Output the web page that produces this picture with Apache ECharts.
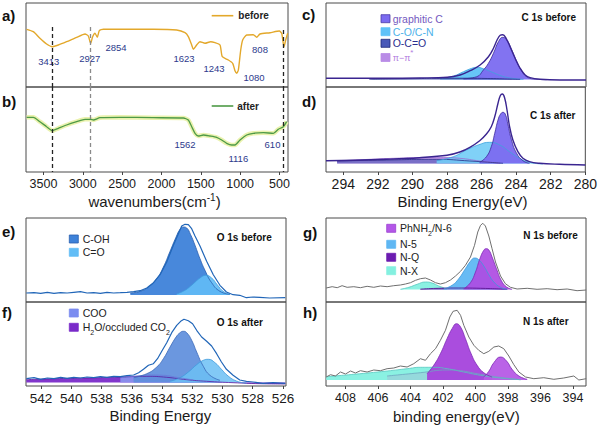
<!DOCTYPE html>
<html><head><meta charset="utf-8">
<script src="https://cdn.jsdelivr.net/npm/echarts@6/dist/echarts.min.js"></script>
<style>html,body{margin:0;padding:0;background:#fff}#c{width:600px;height:426px}</style>
</head><body><div id="c"></div>
<script>
// ---------------- DATA ----------------
const ftirTicks = [3500, 3000, 2500, 2000, 1500, 1000, 500];
const c1sTicks = [294, 292, 290, 288, 286, 284, 282, 280];
const o1sTicks = [542, 540, 538, 536, 534, 532, 530, 528, 526];
const n1sTicks = [408, 406, 404, 402, 400, 398, 396, 394];

const ftirGuideLines = [3388, 2900, 447];
const ftirLabelsBefore = ['3413', '2927', '2854', '1623', '1243', '1080', '808'];
const ftirLabelsAfter = ['1562', '1116', '610'];

const ftirBefore = [[3714,57.7],[3629,55.3],[3545,48.7],[3460,43],[3388,40.3],[3311,42],[3206,45.3],[3078,49.7],[2972,53],[2930,51],[2900,43.7],[2875,50.3],[2845,53.7],[2816,49.7],[2790,56.3],[2739,57.7],[2527,57.7],[2104,57.7],[1807,57],[1701,54.3],[1659,50.3],[1616,42],[1595,37.7],[1553,42],[1511,45.3],[1447,43.7],[1375,45.3],[1320,44.3],[1256,42],[1227,30.3],[1150,27],[1095,23.7],[1066,16.3],[1044,13.7],[1023,17],[993,37],[968,47],[917,52],[833,52.3],[790,49.7],[748,53],[621,54.3],[502,56],[472,53.7],[443,40.3],[421,47],[396,53.7]];
const ftirAfter = [[3714,54.7],[3629,54.7],[3545,50.3],[3460,45.3],[3388,41.3],[3311,43.7],[3206,47],[3078,50.3],[2972,52.7],[2900,52.7],[2866,52],[2782,54.3],[2527,54.7],[2104,54.3],[1722,54],[1659,52],[1616,45.3],[1574,38.7],[1532,36],[1468,37],[1384,36],[1299,34.7],[1235,32],[1172,28.7],[1108,27],[1066,27],[1002,32],[917,37],[833,38.7],[705,39.3],[578,38.7],[515,42.7],[451,45.3],[409,50.3]];

const c1sBeforeEnvelope = [[295,8.7],[293.4,8.7],[291.5,8.7],[289.6,9],[288,9.7],[287.26,12],[286.68,16.3],[286.11,22],[285.63,30.3],[285.34,38.7],[285.11,47.7],[284.95,51.7],[284.8,52.3],[284.61,48.7],[284.38,40.3],[284.09,28.7],[283.8,18.7],[283.51,12],[283.23,9.3],[282.65,7.7],[281.5,7],[280,7]];
const c1sBeforeGraphitic = [[287.07,8.3],[286.3,10.3],[285.92,17],[285.63,23.7],[285.34,33.7],[285.05,45.3],[284.8,49.7],[284.57,47],[284.28,37],[283.99,25.3],[283.71,16],[283.42,10.3],[283.03,8],[282.27,7.3]];
const c1sBeforeCO = [[288.41,8.3],[287.64,11],[287.07,15.3],[286.59,18.7],[286.3,19.7],[285.92,18.3],[285.44,15],[284.86,11],[284.28,8.7],[283.61,7.7]];
const c1sBeforeOCO = [[292.5,7.8],[290.5,8.2],[287.6,8.8],[285.7,8.5],[283.8,7.6]];

const c1sAfterEnvelope = [[295,11.3],[293.4,11.7],[291.5,12.7],[289.6,14.3],[288,16.7],[287.26,20],[286.68,24.7],[286.11,31.3],[285.72,38],[285.44,45.3],[285.24,55.3],[285.05,68.7],[284.92,76.3],[284.8,78],[284.67,74.3],[284.53,62],[284.38,45.3],[284.19,32],[283.9,20.3],[283.61,13.7],[283.23,10.3],[282.65,8.7],[281.5,7.7],[280,7]];
const c1sAfterGraphitic = [[286.11,9.7],[285.72,15.3],[285.44,25.3],[285.24,38.7],[285.05,52],[284.9,58],[284.76,59.7],[284.61,57],[284.48,48],[284.28,32.7],[283.99,19.3],[283.61,11.3],[283.23,8.7]];
const c1sAfterCO = [[288.6,11.3],[287.64,15.3],[286.87,22],[286.2,27],[285.53,29.7],[284.95,27],[284.38,20.3],[283.8,13.7],[283.23,9.7],[282.46,8]];
const c1sAfterPi = [[294.36,11],[292.44,12.7],[290.52,14],[288.6,14.7],[287.26,13.7],[286.11,11],[284.95,8.7]];
const c1sAfterOCO = [[294.36,11],[291.5,12],[288.6,12.7],[286.68,11],[284.76,8.7]];

const o1sBeforeEnvelope = [[542.98,9],[542.47,9.3],[542.03,8.7],[541.59,9.7],[541.15,8.7],[540.71,9.3],[540.28,9],[539.84,9.7],[539.4,10.3],[538.96,9],[538.52,9.3],[538.08,8.7],[537.64,9.7],[537.2,9],[536.76,9.3],[536.32,9.7],[535.88,10.3],[535.45,11.3],[535.01,14],[534.57,19.3],[534.13,27.3],[533.69,40],[533.25,56.7],[532.92,68.3],[532.7,76],[532.48,77.7],[532.26,77.3],[532.04,73.3],[531.82,66],[531.49,56],[531.05,40.7],[530.61,27.3],[530.17,16.7],[529.74,10],[529.3,7.3],[528.86,6.7],[528.42,4.3],[527.98,5],[527.54,4.7],[526.88,4],[525.85,4.3]];
const o1sBeforeCOH = [[536.1,9],[535.45,10.7],[534.9,15],[534.35,23.3],[533.91,35],[533.47,50.7],[533.07,65],[532.81,72.7],[532.59,75],[532.37,74],[532.11,67.3],[531.82,56.7],[531.49,43.3],[531.16,31.7],[530.72,19.3],[530.17,10.7],[529.52,7.7]];
const o1sBeforeCdO = [[533.03,8],[532.48,11.7],[531.93,18.3],[531.49,24],[531.1,26.7],[530.72,24],[530.35,17.3],[529.96,10.7],[529.52,7.7]];

const o1sAfterEnvelope = [[542.98,7.3],[542.47,8.3],[542.03,6.7],[541.59,8],[541.15,7.3],[540.71,8.7],[540.28,7.7],[539.84,8.7],[539.4,8],[538.96,9],[538.52,8.3],[538.08,9.3],[537.64,8.7],[537.2,9.7],[536.76,9.3],[536.32,10.3],[535.88,11],[535.55,13.3],[535.23,16.7],[534.9,20.7],[534.57,22.3],[534.3,27.3],[534.02,34.7],[533.69,43.3],[533.36,53.3],[533.03,60.7],[532.77,64.7],[532.55,66.7],[532.26,65.3],[531.98,62.3],[531.71,55.7],[531.38,49],[531.05,44.7],[530.72,40],[530.39,32.3],[530.07,24],[529.74,16.7],[529.3,10.7],[528.86,6],[528.42,4.7],[527.98,4],[527.32,2.7],[526.66,3.3],[525.85,2.7]];
const o1sAfterCOH = [[535.88,8.3],[535.01,12.3],[534.35,19],[533.91,27.3],[533.47,39],[533.07,49],[532.81,53.3],[532.59,54.7],[532.37,53.3],[532.04,45.7],[531.71,34],[531.27,19.7],[530.83,10.7],[530.17,5.7]];
const o1sAfterCdO = [[533.47,4.7],[532.81,8.3],[532.26,14],[531.71,21.3],[531.27,25.7],[530.94,26.7],[530.5,23.3],[530.07,16.7],[529.63,10],[529.08,5],[528.42,2.7]];
const o1sAfterCOO = [[536.76,8.3],[535.66,10],[534.79,11],[533.91,10.7],[533.03,8.7],[531.93,6]];
const o1sAfterH2O = [[542.98,6.3],[541.15,7.3],[538.96,8],[536.76,9],[535.01,9.7],[533.69,8.7],[532.37,6.3],[531.05,4.7],[529.3,3.3],[527.54,2.3],[525.85,2]];

const n1sBeforeEnvelope = [[409.19,14],[408.82,15.3],[408.51,14.3],[408.21,16.3],[407.9,14.7],[407.49,15.3],[407.08,14.3],[406.67,15.7],[406.26,14.7],[405.85,16],[405.44,15.3],[405.03,16.3],[404.62,17],[404.31,18],[404,19.3],[403.69,21.7],[403.39,23.3],[403.08,24],[402.77,22],[402.46,19.3],[402.16,18],[401.85,19.3],[401.54,22],[401.23,26],[400.92,30.7],[400.62,36.7],[400.31,45],[400.06,56.7],[399.86,70],[399.69,76.7],[399.55,78.7],[399.39,76],[399.18,66],[398.98,53.3],[398.77,40],[398.46,26],[398.16,18.3],[397.85,14.7],[397.44,13],[396.82,13.7],[396.21,12.7],[395.59,13.3],[394.98,12.3],[394.36,13],[393.75,11.3],[393.19,12]];
const n1sBeforeN5 = [[401.95,13.3],[401.44,16.7],[401.03,23.3],[400.62,33.3],[400.31,40.7],[400.06,44],[399.8,42.3],[399.49,36],[399.18,27.3],[398.87,20],[398.46,14.7],[398.05,12.7]];
const n1sBeforeN6 = [[400.72,13.3],[400.31,19.3],[400,30],[399.73,43.3],[399.49,51.7],[399.34,53.3],[399.18,52],[398.98,45],[398.71,33.3],[398.42,21.7],[398.09,15],[397.75,12.7]];
const n1sBeforeNX = [[404.62,12.7],[404.1,14.7],[403.59,17.7],[403.08,20],[402.67,19],[402.26,16],[401.75,13.3]];
const n1sBeforeNQ = [[403.39,12.9],[401.33,14],[399.69,13.7],[398.05,12.7]];

const n1sAfterEnvelope = [[409.19,9],[408.92,11.3],[408.62,10],[408.31,14],[408,12],[407.69,15],[407.39,13],[407.08,15.3],[406.67,14],[406.26,16],[405.85,15.3],[405.44,17.3],[405.03,18],[404.62,20],[404.21,19],[403.8,22.3],[403.39,27.3],[403.08,25.7],[402.77,32.3],[402.46,37.3],[402.16,45.7],[401.85,55.7],[401.58,69],[401.38,74.7],[401.13,75.7],[400.92,70.7],[400.72,60.7],[400.41,49],[400.1,40.7],[399.8,35.7],[399.49,32.3],[399.18,34.7],[398.87,39],[398.57,40],[398.26,37.3],[397.95,30],[397.64,21.3],[397.33,14],[396.92,9],[396.41,7.3],[395.8,8.3],[395.18,6.7],[394.57,8],[393.95,10],[393.64,6],[393.19,7.3]];
const n1sAfterN6 = [[402.98,12.3],[402.57,20.7],[402.16,32.3],[401.75,47.3],[401.44,57.3],[401.17,62.3],[400.92,59],[400.62,47.3],[400.27,32.3],[399.9,20.7],[399.49,13.3],[398.98,9]];
const n1sAfterN6b = [[399.49,9],[399.18,14.7],[398.87,23.3],[398.46,29],[398.09,25],[397.75,16.7],[397.33,10],[396.82,6.7]];
const n1sAfterNX = [[409.19,9.3],[407.49,11.7],[405.44,15],[404.21,17.3],[403.39,18.7],[402.57,18.7],[401.75,17.3],[400.72,14],[399.69,10.7],[398.46,8],[397.23,6.3]];
const n1sAfterN5 = [[405.44,10],[403.39,13.3],[401.75,16],[400.92,15.3],[399.9,12.3],[398.67,9],[397.23,6.3]];

// ---------------- LAYOUT / STYLE ----------------
const FONT = "'Liberation Sans', Arial, sans-serif";
const grids = [
  {left:26, top:3, width:262, height:84},
  {left:26, top:87, width:262, height:85},
  {left:326, top:3, width:260, height:84},
  {left:326, top:87, width:260, height:85},
  {left:26, top:218, width:260, height:84},
  {left:26, top:302, width:260, height:84},
  {left:326, top:218, width:260, height:84},
  {left:326, top:302, width:260, height:84}
].map(g => Object.assign({show:true, borderColor:'#4a4a4a', borderWidth:1, backgroundColor:'transparent'}, g));

const ranges = [[392,3722],[392,3722],[280,295],[280,295],[525.8,543],[525.8,543],[393.2,409.2],[393.2,409.2]];
const tickSets = [null, ftirTicks, null, c1sTicks, null, o1sTicks, null, n1sTicks];
const labelSizes = [null, 12.5, null, 14, null, 13.5, null, 12.5];

const xAxes = ranges.map((r, i) => {
  const shown = tickSets[i] !== null;
  return {
    type:'value', gridIndex:i, min:r[0], max:r[1], inverse:true,
    axisLine:{show:false}, splitLine:{show:false},
    axisTick:shown ? {show:true, length:3, inside:false, customValues:tickSets[i], lineStyle:{color:'#444', width:1}} : {show:false},
    axisLabel:shown ? {show:true, customValues:tickSets[i], color:'#1a1a1a', margin:5, fontSize:labelSizes[i], fontFamily:FONT,
      formatter:v => String(v)} : {show:false}
  };
});
const yAxes = grids.map((g, i) => ({type:'value', gridIndex:i, min:0, max:g.height, show:false, splitLine:{show:false}}));

function trace(name, gi, data, color, width, smooth) {
  return {type:'line', name, xAxisIndex:gi, yAxisIndex:gi, data, showSymbol:false, symbol:'none',
    smooth:smooth, lineStyle:{color, width}, silent:true, z:3};
}
function comp(name, gi, data, fill, stroke, origin, opacity) {
  return {type:'line', name, xAxisIndex:gi, yAxisIndex:gi, data, showSymbol:false, symbol:'none',
    smooth:0.5, lineStyle:{color:stroke, width:0.8}, areaStyle:{color:fill, opacity:opacity, origin:origin}, silent:true, z:2};
}
function guides(top, seriesGrid) {
  const cols = ['#222', '#8a8a8a', '#222'];
  const tops = seriesGrid === 0 ? [60, 60, 57] : [top, top, top];
  return {silent:true, symbol:'none', label:{show:false},
    lineStyle:{type:[4,3], width:1.3, color:'#222'},
    data: ftirGuideLines.map((v, k) => [{coord:[v, tops[k]], lineStyle:{color:cols[k], type:[4,3], width:1.3}}, {coord:[v, 0]}])};
}

const series = [];
const sa = trace('before', 0, ftirBefore, '#E3A82B', 1.4, 0.2); sa.markLine = guides(84, 0); series.push(sa);
series.push(trace('after-halo', 1, ftirAfter, '#EAF2AE', 4.5, 0.2));
const sb = trace('after', 1, ftirAfter, '#4E9A47', 1.3, 0.2); sb.markLine = guides(85, 1); series.push(sb);

series.push(comp('C-O/C-N', 2, c1sBeforeCO, '#5FC2F7', '#3FA3DD', 7.5, 0.95));
series.push(comp('graphitic C', 2, c1sBeforeGraphitic, '#7B6BF0', '#3D2A9C', 7.5, 0.95));
series.push(comp('O-C=O', 2, c1sBeforeOCO, '#3E4FA9', '#2A2F88', 7.5, 0.9));
series.push(trace('C 1s before', 2, c1sBeforeEnvelope, '#3A2590', 1.4, 0.4));

series.push(comp('π-π*', 3, c1sAfterPi, '#B98CE6', '#9A6CD0', 8.5, 0.9));
series.push(comp('O-C=O', 3, c1sAfterOCO, '#4A55B0', '#2A2F88', 8.5, 0.6));
series.push(comp('C-O/C-N', 3, c1sAfterCO, '#72CCF6', '#3FA3DD', 8.5, 0.9));
series.push(comp('graphitic C', 3, c1sAfterGraphitic, '#7B6BF0', '#3D2A9C', 8.5, 0.95));
series.push(trace('C 1s after', 3, c1sAfterEnvelope, '#3A2590', 1.4, 0.4));

series.push(comp('C-OH', 4, o1sBeforeCOH, '#3E82D9', '#2A5EAE', 7, 0.95));
series.push(comp('C=O', 4, o1sBeforeCdO, '#62BDF6', '#3D9BDC', 7, 0.9));
series.push(trace('O 1s before', 4, o1sBeforeEnvelope, '#2166B8', 1.2, false));

series.push(comp('H2O/occluded CO2', 5, o1sAfterH2O, '#7A2BC9', '#5A1AA0', 3.5, 0.95));
series.push(comp('COO', 5, o1sAfterCOO, '#8A96EE', '#6A78D8', 3.5, 0.9));
series.push(comp('C-OH', 5, o1sAfterCOH, '#5E8EDC', '#3A68B8', 3.5, 0.92));
series.push(comp('C=O', 5, o1sAfterCdO, '#6CC0F4', '#3D9BDC', 3.5, 0.85));
series.push(trace('O 1s after', 5, o1sAfterEnvelope, '#2166B8', 1.2, false));

series.push(comp('N-X', 6, n1sBeforeNX, '#84F0E0', '#55C8C0', 12.5, 0.95));
series.push(comp('N-Q', 6, n1sBeforeNQ, '#6B1CB0', '#50128A', 12.5, 0.9));
series.push(comp('N-5', 6, n1sBeforeN5, '#5FB7F3', '#3C98DA', 12.5, 0.95));
series.push(comp('PhNH2/N-6', 6, n1sBeforeN6, '#AE4BE2', '#7C28B5', 12.5, 0.92));
series.push(trace('N 1s before', 6, n1sBeforeEnvelope, '#6f6f6f', 1, false));

series.push(comp('N-X', 7, n1sAfterNX, '#84F0E0', '#55C8C0', 6, 0.95));
series.push(comp('N-5', 7, n1sAfterN5, '#9CC9D8', '#6FA6C0', 6, 0.6));
series.push(comp('PhNH2/N-6', 7, n1sAfterN6, '#A543DC', '#7C28B5', 6, 0.95));
series.push(comp('N-6b', 7, n1sAfterN6b, '#B65BE6', '#7C28B5', 6, 0.95));
series.push(trace('N 1s after', 7, n1sAfterEnvelope, '#6f6f6f', 1, false));

// ---------------- GRAPHIC TEXT ----------------
function T(x, y, text, font, fill, align, rich) {
  const st = {text, font, fill, align:align||'left', verticalAlign:'middle', textAlign:align||'left', textVerticalAlign:'middle'};
  if (rich) { st.rich = rich; st.lineHeight = 18; }
  return {type:'text', x, y, silent:true, style:st};
}
function SQ(x, y, fill, stroke) {
  return {type:'rect', silent:true, shape:{x, y:y-4, width:9, height:8}, style:{fill, stroke:stroke||fill, lineWidth:0.8}};
}
function LN(x1, x2, y, color) {
  return {type:'line', silent:true, shape:{x1, y1:y, x2, y2:y}, style:{stroke:color, lineWidth:1.6}};
}
const B15 = 'bold 15px ' + FONT, B10 = 'bold 10px ' + FONT, L10 = '10.5px ' + FONT, P9 = '9.5px ' + FONT;
const NAVY = '#2D3A8C';
const subRich = {s:{fontSize:7, fontFamily:FONT, verticalAlign:'bottom', lineHeight:8, fill:'#222'}};
const graphic = [
  T(2, 15, 'a)', B15, '#111'), T(2, 101.7, 'b)', B15, '#111'),
  T(302, 14.5, 'c)', B15, '#111'), T(302, 101, 'd)', B15, '#111'),
  T(2, 231, 'e)', B15, '#111'), T(2, 312, 'f)', B15, '#111'),
  T(303, 232, 'g)', B15, '#111'), T(303, 312, 'h)', B15, '#111'),

  LN(211.7, 233.3, 15.7, '#E3A82B'), T(238.3, 15.7, 'before', B10, '#222'),
  LN(211.7, 233.3, 106, '#4E9A47'), T(237.3, 106, 'after', B10, '#222'),
  T(48.7, 61.7, ftirLabelsBefore[0], P9, NAVY, 'center'),
  T(89.7, 58.3, ftirLabelsBefore[1], P9, NAVY, 'center'),
  T(116, 47.7, ftirLabelsBefore[2], P9, NAVY, 'center'),
  T(184, 58.3, ftirLabelsBefore[3], P9, NAVY, 'center'),
  T(214, 68.3, ftirLabelsBefore[4], P9, NAVY, 'center'),
  T(254, 77.7, ftirLabelsBefore[5], P9, NAVY, 'center'),
  T(260, 49.3, ftirLabelsBefore[6], P9, NAVY, 'center'),
  T(185, 144, ftirLabelsAfter[0], P9, NAVY, 'center'),
  T(238.3, 158.3, ftirLabelsAfter[1], P9, NAVY, 'center'),
  T(272.5, 144, ftirLabelsAfter[2], P9, NAVY, 'center'),
  T(154.5, 201.7, 'wavenumbers(cm{s|-1})', '15px ' + FONT, '#1a1a1a', 'center',
    {s:{fontSize:10, fontFamily:FONT, verticalAlign:'top', lineHeight:10, fill:'#1a1a1a'}}),

  SQ(381, 18.7, '#7B6BF0', '#4B3BA8'), T(392.7, 18.7, 'graphitic C', L10, '#7359C0'),
  SQ(381, 31.7, '#5FC2F7', '#5FC2F7'), T(392.7, 31.7, 'C-O/C-N', L10, '#4DB2EA'),
  SQ(381, 43.3, '#4A5AB8', '#1E2A78'), T(392.7, 43.3, 'O-C=O', L10, '#2A2E8E'),
  SQ(381, 57.5, '#B98CE6', '#B98CE6'), T(392.7, 57.5, 'π−π{s|*}', '9px ' + FONT, '#B07ADE', 'left',
    {s:{fontSize:8, fontFamily:FONT, verticalAlign:'top', lineHeight:8, fill:'#B07ADE'}}),
  T(576, 17.7, 'C 1s before', B10, '#111', 'right'),
  T(575.5, 115.7, 'C 1s after', B10, '#111', 'right'),
  T(462.5, 201, 'Binding Energy(eV)', '15px ' + FONT, '#1a1a1a', 'center'),

  SQ(69.3, 239, '#3E82D9', '#2A5EAE'), T(82.7, 239, 'C-OH', L10, '#222'),
  SQ(69.3, 252.3, '#62BDF6', '#62BDF6'), T(82.7, 252.3, 'C=O', L10, '#222'),
  T(216.7, 237, 'O 1s before', B10, '#111'),
  SQ(69.3, 313, '#7B8CF0', '#7B8CF0'), T(82.7, 313, 'COO', L10, '#222'),
  SQ(69.3, 327.3, '#7A2BC9', '#7A2BC9'), T(82.7, 327.3, 'H{s|2}O/occluded CO{s|2}', L10, '#222', 'left', subRich),
  T(216.7, 322, 'O 1s after', B10, '#111'),
  T(160.3, 415, 'Binding Energy', '15px ' + FONT, '#1a1a1a', 'center'),

  SQ(386.7, 228.3, '#B457E8', '#9A3FD0'), T(400, 228.3, 'PhNH{s|2}/N-6', L10, '#222', 'left', subRich),
  SQ(386.7, 244.3, '#5FB7F3', '#5FB7F3'), T(400, 244.3, 'N-5', L10, '#222'),
  SQ(386.7, 257.3, '#6B1CB0', '#6B1CB0'), T(400, 257.3, 'N-Q', L10, '#222'),
  SQ(386.7, 270.7, '#84F0E0', '#84F0E0'), T(400, 270.7, 'N-X', L10, '#222'),
  T(523.3, 235.3, 'N 1s before', B10, '#111'),
  T(523, 321.7, 'N 1s after', B10, '#111'),
  T(456.3, 416, 'binding energy(eV)', '15px ' + FONT, '#1a1a1a', 'center')
];

const chart = echarts.init(document.getElementById('c'), null, {renderer:'svg', width:600, height:426});
chart.setOption({
  animation:false,
  backgroundColor:'#ffffff',
  textStyle:{fontFamily:FONT},
  grid:grids, xAxis:xAxes, yAxis:yAxes, series, graphic
});
</script></body></html>
